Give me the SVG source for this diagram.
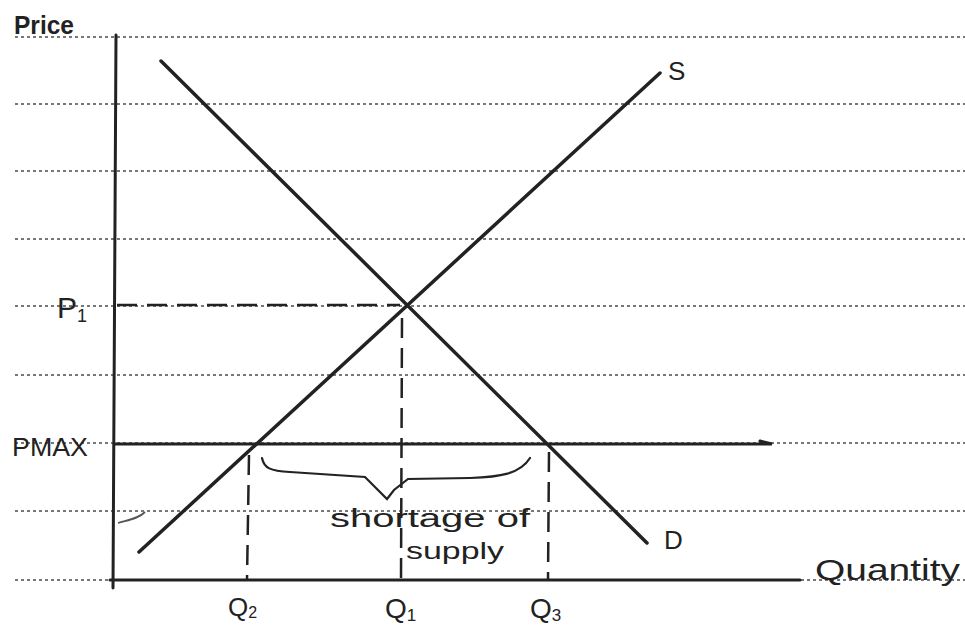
<svg xmlns="http://www.w3.org/2000/svg" width="965" height="633" viewBox="0 0 965 633">
<style>
.rule{stroke:#777;stroke-width:2;stroke-dasharray:3 3;fill:none}
.axis{stroke:#222;stroke-width:3;fill:none;stroke-linecap:round}
.curve{stroke:#222;stroke-width:3.5;fill:none;stroke-linecap:round}
.dash{stroke:#222;stroke-width:2.5;stroke-dasharray:20 10;fill:none}
.lbl{font-family:"Liberation Sans","DejaVu Sans",sans-serif;fill:#222}
</style>
<rect width="965" height="633" fill="#fff"/>
<g id="ruled-lines">
<line class="rule" x1="15" y1="37" x2="965" y2="37"/>
<line class="rule" x1="15" y1="104" x2="965" y2="104"/>
<line class="rule" x1="15" y1="171" x2="965" y2="171"/>
<line class="rule" x1="15" y1="239" x2="965" y2="239"/>
<line class="rule" x1="15" y1="306" x2="965" y2="306"/>
<line class="rule" x1="15" y1="375" x2="965" y2="375"/>
<line class="rule" x1="15" y1="443" x2="965" y2="443"/>
<line class="rule" x1="15" y1="511" x2="965" y2="511"/>
<line class="rule" x1="15" y1="580" x2="965" y2="580"/>
</g>
<g id="axes">
<line class="axis" x1="116" y1="35" x2="113" y2="588"/>
<line class="axis" x1="110" y1="580" x2="800" y2="580"/>
</g>
<g id="connectors">
<line id="supply" class="curve" x1="139" y1="552" x2="660" y2="73"/>
<line id="demand" class="curve" x1="161" y1="61" x2="647" y2="543"/>
<path id="pmax-line" class="axis" d="M115 444 L772 444 L760 441"/>
<line class="dash" x1="117" y1="305" x2="400" y2="305"/>
<line class="dash" x1="402" y1="318" x2="401" y2="580"/>
<line class="dash" x1="249" y1="455" x2="247" y2="580"/>
<line class="dash" x1="549" y1="452" x2="548" y2="580"/>
<path id="brace" d="M262 458 C264 468 270 471 290 472 L365 477 L387 499 L394 490 L408 479 L470 478 C500 477 520 474 530 458" stroke="#222" stroke-width="2.2" fill="none" stroke-linecap="round"/>
<path d="M118 523 C128 520 138 519 145 512" stroke="#555" stroke-width="1.8" fill="none"/>
</g>
<g id="labels">
<text class="lbl" x="14" y="34" font-size="25" font-weight="bold" textLength="60" lengthAdjust="spacingAndGlyphs">Price</text>
<text class="lbl" x="57" y="318" font-size="30">P<tspan font-size="18" dy="4">1</tspan></text>
<text class="lbl" x="12" y="456" font-size="25" textLength="76" lengthAdjust="spacingAndGlyphs">PMAX</text>
<text class="lbl" x="228" y="616" font-size="26">Q<tspan font-size="16" dy="2">2</tspan></text>
<text class="lbl" x="385" y="618" font-size="28">Q<tspan font-size="17" dy="3">1</tspan></text>
<text class="lbl" x="530" y="618" font-size="28">Q<tspan font-size="17" dy="3">3</tspan></text>
<text class="lbl" x="668" y="80" font-size="26">S</text>
<text class="lbl" x="664" y="549" font-size="26">D</text>
<text class="lbl" x="815" y="580" font-size="30" textLength="145" lengthAdjust="spacingAndGlyphs">Quantity</text>
<text class="lbl" x="330" y="527" font-size="25" textLength="200" lengthAdjust="spacingAndGlyphs">shortage of</text>
<text class="lbl" x="406" y="559" font-size="24" textLength="98" lengthAdjust="spacingAndGlyphs">supply</text>
</g>
</svg>
